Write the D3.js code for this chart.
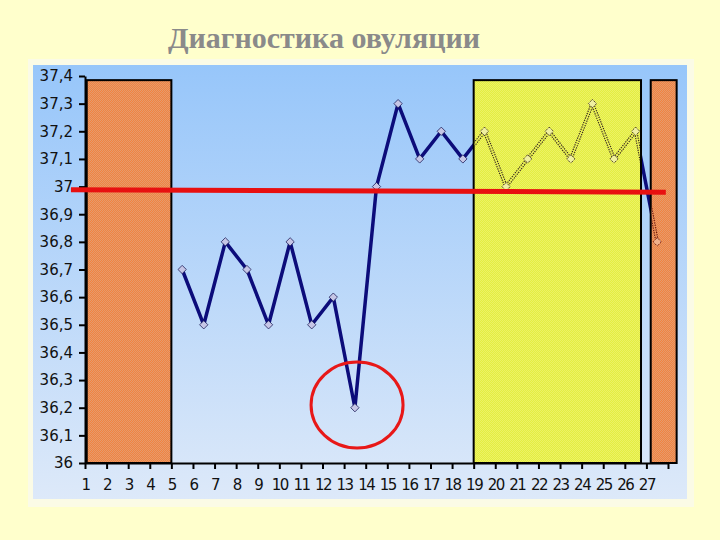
<!DOCTYPE html>
<html><head><meta charset="utf-8">
<script src="https://cdn.jsdelivr.net/npm/d3@7"></script>
<style>html,body{margin:0;padding:0;background:#ffffcc;}svg{display:block;}</style>
</head><body>
<svg id="chart" width="720" height="540"></svg>
<script>
// ---- data ----
const titleText = "Диагностика овуляции";
const dayLabels = d3.range(1, 28);            // 1..27
const tempDays = d3.range(5, 28);              // days with measurement
const temps = [36.7,36.5,36.8,36.7,36.5,36.8,36.5,36.6,36.2,37.0,37.3,37.1,37.2,37.1,37.2,37.0,37.1,37.2,37.1,37.3,37.1,37.2,36.8];
const yTicks = [36,36.1,36.2,36.3,36.4,36.5,36.6,36.7,36.8,36.9,37,37.1,37.2,37.3,37.4];
const periodStart = [1.08, 19, 27.2];
const periodEnd = [5, 26.75, 28.4];
const periodType = ["menses", "fertile", "menses"];
const periodTop = 37.385;
const refLevel = 36.985;
const refFrom = 0.35, refTo = 27.9;
const circleDay = 13.6, circleTemp = 36.21;

const svg = d3.select("#chart");
const x = d3.scaleLinear().domain([1, 28]).range([85, 668]);
const y = d3.scaleLinear().domain([36, 37.4]).range([463, 76]);

const defs = svg.append("defs");
const g = defs.append("linearGradient").attr("id","bg").attr("x1",0).attr("y1",0).attr("x2",0).attr("y2",1);
g.append("stop").attr("offset","0%").attr("stop-color","#97c6fa");
g.append("stop").attr("offset","100%").attr("stop-color","#dde9f9");

function checker(id, c1, c2) {
  const p = defs.append("pattern").attr("id", id).attr("patternUnits","userSpaceOnUse").attr("width",2).attr("height",2);
  p.append("rect").attr("x",0).attr("y",0).attr("width",2).attr("height",2).attr("fill",c1);
  p.append("rect").attr("x",0).attr("y",0).attr("width",1).attr("height",1).attr("fill",c2);
  p.append("rect").attr("x",1).attr("y",1).attr("width",1).attr("height",1).attr("fill",c2);
}
checker("pOrange", "#f08440", "#e69a6c");
checker("pYellow", "#e4ee40", "#ecf266");
const fillOf = t => t==="menses" ? "url(#pOrange)" : "url(#pYellow)";
const edgeOf = t => t==="menses" ? "#6a1a10" : "#3a2a20";

periodType.forEach((t,i)=>{
  defs.append("clipPath").attr("id","pc"+i).append("rect")
    .attr("x",x(periodStart[i])+1).attr("width",x(periodEnd[i])-x(periodStart[i])-2)
    .attr("y",y(periodTop)+1).attr("height",y(36)-y(periodTop)-2);
});

// title
svg.append("text").attr("x", 324).attr("y", 48).attr("text-anchor","middle")
  .attr("font-family","'Liberation Serif', 'Times New Roman', serif").attr("font-weight","bold")
  .attr("font-size", 30).attr("fill","#8a8a8a").text(titleText);

// panel
svg.append("rect").attr("x",28).attr("y",59).attr("width",666).attr("height",448).attr("fill","#fbfbe6");
svg.append("rect").attr("x",33).attr("y",65).attr("width",654).attr("height",434).attr("fill","url(#bg)");

// temperature line
const pts = tempDays.map((d,i)=>[x(d+0.5), y(temps[i])]);
const lineD = d3.line()(pts);
const diamond = d3.symbol().type(d3.symbolDiamond2).size(44);
svg.append("path").attr("d", lineD).attr("fill","none")
  .attr("stroke","#0c0c7a").attr("stroke-width",3.5).attr("stroke-linejoin","round");
svg.selectAll("path.mk").data(pts).enter().append("path").attr("class","mk")
  .attr("transform", p=>`translate(${p[0]},${p[1]})`)
  .attr("d", diamond)
  .attr("fill","#c6c6e6").attr("stroke","#20205a").attr("stroke-width",0.8);

// periods
svg.selectAll("rect.period").data(periodType).enter().append("rect").attr("class","period")
  .attr("x",(t,i)=>x(periodStart[i])).attr("width",(t,i)=>x(periodEnd[i])-x(periodStart[i]))
  .attr("y", y(periodTop)).attr("height", y(36)-y(periodTop))
  .attr("fill", fillOf)
  .attr("stroke","#000").attr("stroke-width",2);

// line seen through the hatched periods (edges only)
periodType.forEach((t,i)=>{
  const through = svg.append("g").attr("clip-path",`url(#pc${i})`);
  through.append("path").attr("d", lineD).attr("fill","none")
    .attr("stroke",edgeOf(t)).attr("stroke-width",3.6).attr("stroke-dasharray","1.3 1.1").attr("stroke-linejoin","round");
  through.append("path").attr("d", lineD).attr("fill","none")
    .attr("stroke",fillOf(t)).attr("stroke-width",1.3).attr("stroke-linejoin","round");
  through.selectAll("path.mk2").data(pts).enter().append("path").attr("class","mk2")
    .attr("transform", p=>`translate(${p[0]},${p[1]})`)
    .attr("d", diamond)
    .attr("fill", t==="menses" ? "#f0b08a" : "#f0f0a0").attr("stroke",edgeOf(t)).attr("stroke-width",1).attr("stroke-dasharray","1.2 1");
});

// axes
const yAxis = d3.axisLeft(y).tickValues(yTicks).tickSize(6).tickSizeOuter(0)
  .tickFormat(v => d3.format(".1f")(v).replace(/\.0$/,"").replace(".",","));
const ya = svg.append("g").attr("transform",`translate(${x(1)},0)`).call(yAxis);
ya.select(".domain").attr("stroke","#000").attr("stroke-width",2);
ya.selectAll(".tick line").attr("stroke","#000").attr("stroke-width",2);
ya.selectAll(".tick text").attr("font-family","'DejaVu Sans', sans-serif").attr("font-size",15).attr("fill","#111").attr("x",-12);

const xAxis = d3.axisBottom(x).tickValues(d3.range(1,29)).tickSize(6).tickSizeOuter(0)
  .tickFormat(v => dayLabels.includes(v) ? String(v) : "");
const xa = svg.append("g").attr("transform",`translate(0,${y(36)})`).call(xAxis);
xa.select(".domain").attr("stroke","#000").attr("stroke-width",2);
xa.selectAll(".tick line").attr("stroke","#000").attr("stroke-width",2);
xa.selectAll(".tick text").attr("font-family","'DejaVu Sans', sans-serif").attr("font-size",15).attr("fill","#111")
  .attr("y",16).attr("letter-spacing",-1.5);

// reference level (red)
svg.append("line").attr("x1",x(refFrom)).attr("x2",x(refTo)).attr("y1",y(refLevel)-1).attr("y2",y(refLevel)+1.5)
  .attr("stroke","#e81010").attr("stroke-width",5);

// red circle
svg.append("ellipse").attr("cx",x(circleDay)).attr("cy",y(circleTemp)).attr("rx",46).attr("ry",43)
  .attr("fill","none").attr("stroke","#e81818").attr("stroke-width",3);
</script>
</body></html>
